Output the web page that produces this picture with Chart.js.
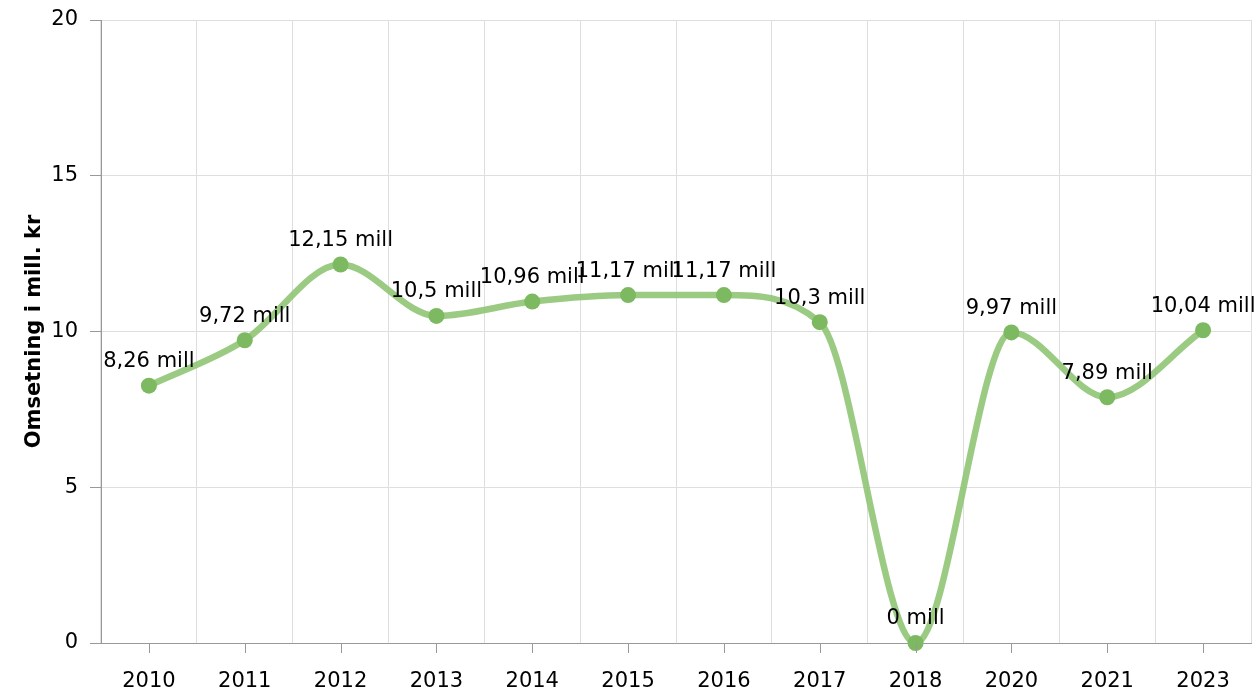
<!DOCTYPE html>
<html>
<head>
<meta charset="utf-8">
<script src="https://cdn.jsdelivr.net/npm/chart.js@4/dist/chart.umd.min.js"></script>
<style>
  html, body { margin: 0; padding: 0; background: #fff; }
  #wrap { width: 1259px; height: 691px; }
</style>
</head>
<body>
<div id="wrap"><canvas id="omsetningChart"></canvas></div>
<script>
const years = ['2010', '2011', '2012', '2013', '2014', '2015', '2016', '2017', '2018', '2020', '2021', '2023'];
const omsetning = [8.26, 9.72, 12.15, 10.5, 10.96, 11.17, 11.17, 10.3, 0, 9.97, 7.89, 10.04];
const yTicks = [0, 5, 10, 15, 20];

Chart.defaults.font.family = '"DejaVu Sans", Verdana, sans-serif';
Chart.defaults.font.size = 21;
Chart.defaults.color = '#000';

// etiketter over punktene, f.eks "8,26 mill"
const valueLabels = {
  id: 'valueLabels',
  afterDatasetsDraw(chart) {
    const ctx = chart.ctx;
    const meta = chart.getDatasetMeta(0);
    ctx.save();
    ctx.font = '21px "DejaVu Sans", sans-serif';
    ctx.fillStyle = '#000';
    ctx.textAlign = 'center';
    ctx.textBaseline = 'middle';
    meta.data.forEach((pt, i) => {
      const txt = String(omsetning[i]).replace('.', ',') + ' mill';
      ctx.fillText(txt, pt.x, pt.y - 24);
    });
    ctx.restore();
  }
};

// små streker under x-aksen midt på hver kategori
const centerTicks = {
  id: 'centerTicks',
  afterDraw(chart) {
    const x = chart.scales.x;
    const ctx = chart.ctx;
    ctx.save();
    ctx.strokeStyle = '#999';
    ctx.lineWidth = 1;
    years.forEach((y, i) => {
      const px = Math.round(x.getPixelForValue(i)) + 0.5;
      ctx.beginPath();
      ctx.moveTo(px, x.top);
      ctx.lineTo(px, x.top + 10);
      ctx.stroke();
    });
    ctx.restore();
  }
};

new Chart(document.getElementById('omsetningChart'), {
  type: 'line',
  data: {
    labels: years,
    datasets: [{
      data: omsetning,
      borderColor: 'rgba(141, 196, 114, 0.88)',
      borderWidth: 6.5,
      cubicInterpolationMode: 'monotone',
      pointRadius: 8,
      pointHoverRadius: 8,
      pointBackgroundColor: '#7db960',
      pointBorderColor: '#7db960',
      pointBorderWidth: 0,
      clip: false
    }]
  },
  options: {
    responsive: true,
    maintainAspectRatio: false,
    animation: false,
    layout: { padding: { top: 20, right: 8, left: 0, bottom: 0 } },
    plugins: {
      legend: { display: false },
      tooltip: { enabled: false }
    },
    scales: {
      x: {
        offset: true,
        grid: { offset: true, color: '#dedede', tickLength: 0 },
        border: { color: '#999' },
        ticks: { padding: 26, maxRotation: 0 },
        afterFit(s) { s.height = 48; s.paddingLeft = 0; s.paddingRight = 0; }
      },
      y: {
        min: 0,
        max: 20,
        afterBuildTicks(s) { s.ticks = yTicks.map(v => ({ value: v })); },
        grid: { color: '#dedede', tickColor: '#999', tickLength: 11 },
        border: { color: '#999' },
        ticks: { padding: 12 },
        title: {
          display: true,
          text: 'Omsetning i mill. kr',
          font: { weight: 'bold', size: 21 },
          padding: { top: 22, bottom: 0 }
        },
        afterFit(s) { s.width = 101; s.paddingTop = 0; s.paddingBottom = 0; }
      }
    }
  },
  plugins: [valueLabels, centerTicks]
});
</script>
</body>
</html>
